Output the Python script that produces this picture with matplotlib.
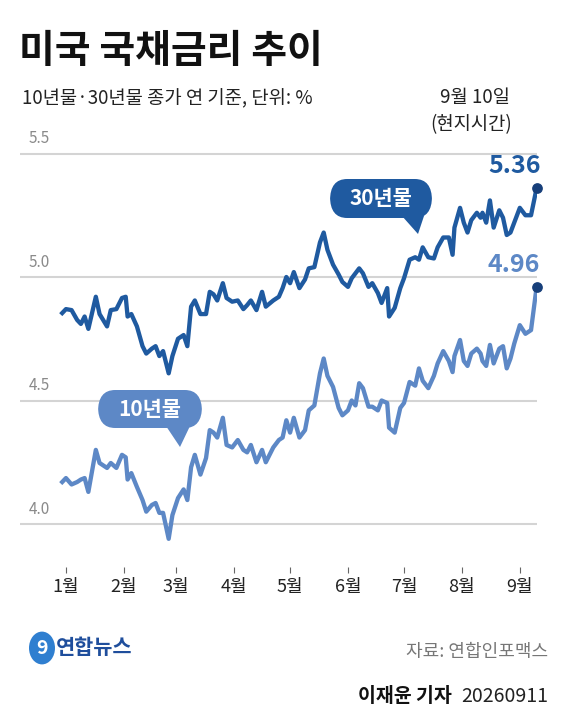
import matplotlib
matplotlib.use("Agg")
import matplotlib.pyplot as plt
from matplotlib.patches import FancyBboxPatch, Polygon, Circle

plt.rcParams['font.family'] = ['Noto Sans CJK KR', 'DejaVu Sans']

# day-of-year index (Jan 1 = 0)
days = [-2, 0, 3, 6, 8, 10, 12, 16, 18, 22, 24, 27, 30, 32, 33, 35, 38, 41, 43, 46,
        48, 50, 52, 55, 57, 60, 63, 65, 67, 69, 72, 75, 77, 79, 81, 84, 86, 89, 92, 95,
        97, 99, 102, 105, 107, 111, 114, 116, 118, 120, 122, 125,
        128, 130, 133, 136, 138, 140, 143, 146, 148, 151, 153, 155, 157, 159, 162, 164,
        167, 169, 172, 173, 176, 179, 181, 184, 187, 189, 191, 194, 197, 199, 202, 205,
        207, 208, 211, 213, 215, 217, 220, 222, 223, 225, 227, 229, 232, 234, 236, 238,
        240, 243, 246, 249, 252]

y30 = [4.854, 4.87, 4.866, 4.826, 4.81, 4.84, 4.79, 4.92, 4.85, 4.80, 4.866, 4.87, 4.915, 4.92,
       4.84, 4.85, 4.80, 4.72, 4.69, 4.71, 4.72, 4.68, 4.70, 4.61, 4.68, 4.75, 4.765, 4.72,
       4.88, 4.905, 4.85, 4.85, 4.94, 4.93, 4.905, 4.975, 4.915, 4.90, 4.905, 4.87, 4.886,
       4.905, 4.866, 4.94, 4.88, 4.905, 4.92, 4.955, 5.0, 4.975, 5.02, 4.955,
       4.99, 5.035, 5.04, 5.14, 5.18, 5.11, 5.05, 5.01, 4.98, 4.96, 4.995, 5.015, 5.035, 5.015,
       4.96, 4.975, 4.935, 4.895, 4.955, 4.84, 4.875, 4.955, 4.995, 5.07, 5.08, 5.07, 5.12,
       5.08, 5.075, 5.12, 5.16, 5.16, 5.09, 5.20, 5.28, 5.22, 5.18, 5.23, 5.26, 5.24, 5.26,
       5.22, 5.31, 5.20, 5.27, 5.24, 5.17, 5.18, 5.22, 5.28, 5.25, 5.25, 5.36]

y10 = [4.17, 4.186, 4.16, 4.17, 4.18, 4.186, 4.13, 4.30, 4.247, 4.227, 4.247, 4.227, 4.28, 4.27,
       4.18, 4.206, 4.15, 4.097, 4.05, 4.077, 4.085, 4.045, 4.045, 3.94, 4.036, 4.105, 4.14,
       4.097, 4.23, 4.28, 4.20, 4.267, 4.38, 4.37, 4.35, 4.43, 4.32, 4.31, 4.34, 4.30, 4.29,
       4.32, 4.25, 4.30, 4.25, 4.31, 4.34, 4.35, 4.42, 4.37, 4.43, 4.35,
       4.38, 4.46, 4.48, 4.61, 4.67, 4.60, 4.555, 4.47, 4.44, 4.46, 4.50, 4.48, 4.57, 4.55,
       4.475, 4.475, 4.46, 4.50, 4.49, 4.39, 4.37, 4.47, 4.49, 4.575, 4.56, 4.63, 4.58, 4.55,
       4.60, 4.65, 4.70, 4.66, 4.615, 4.68, 4.745, 4.66, 4.64, 4.69, 4.71, 4.69, 4.66, 4.64,
       4.725, 4.65, 4.71, 4.72, 4.63, 4.67, 4.73, 4.805, 4.77, 4.785, 4.96]

month_days = [0, 31, 59, 90, 120, 151, 181, 212, 243]
month_labels = ['1월', '2월', '3월', '4월', '5월', '6월', '7월', '8월', '9월']
yticks = [4.0, 4.5, 5.0, 5.5]

C30 = '#1f5aa0'
C10 = '#5d88c6'
DOT = '#173f7a'

W, H = 571, 720
fig = plt.figure(figsize=(W / 100, H / 100), dpi=100)

def fx(px): return px / W
def fy(py): return 1 - py / H

ax_l, ax_r, ax_t, ax_b = 20, 537, 140, 567
ax = fig.add_axes([fx(ax_l), fy(ax_b), (ax_r - ax_l) / W, (ax_b - ax_t) / H])
ax.set_xlim(-24.6, 252.2)
# 5.0 -> 277 px, 247 px per unit
ax.set_ylim(5.0 - (ax_b - 277) / 247, 5.0 + (277 - ax_t) / 247)
for s in ax.spines.values():
    s.set_visible(False)
ax.set_yticks([])
for v in yticks:
    ax.axhline(v, color='#d4d4d4', lw=1.5, zorder=1)
    ax.text(-20, v + 0.025, f'{v:.1f}', color='#8a8a8a', fontsize=11, va='bottom', ha='left')
ax.set_xticks(month_days)
ax.set_xticklabels(month_labels, fontsize=13, color='#222222')
ax.tick_params(axis='x', length=4, width=0.8, color='#666666', pad=4)

ax.plot(days, y30, color=C30, lw=3.1, solid_joinstyle='round', zorder=3)
ax.plot(days, y10, color=C10, lw=3.1, solid_joinstyle='round', zorder=3)
ax.scatter([days[-1], days[-1]], [y30[-1], y10[-1]], s=45, color=DOT, zorder=4, clip_on=False)
ax.text(days[-1] + 2, y30[-1] + 0.04, f'{y30[-1]:.2f}', color=C30, fontsize=18, fontweight='bold',
        ha='right', va='bottom', clip_on=False)
ax.text(days[-1] + 2, y10[-1] + 0.04, f'{y10[-1]:.2f}', color=C10, fontsize=18, fontweight='bold',
        ha='right', va='bottom', clip_on=False)

def callout(x0, y0, x1, y1, tail, color, label):
    box = FancyBboxPatch((fx(x0), fy(y1)), fx(x1 - x0), (y1 - y0) / H,
                         boxstyle='round,pad=0,rounding_size=0.03', transform=fig.transFigure,
                         facecolor=color, edgecolor='none')
    fig.patches.append(box)
    tri = Polygon([(fx(px), fy(py)) for px, py in tail], closed=True,
                  transform=fig.transFigure, facecolor=color, edgecolor='none')
    fig.patches.append(tri)
    fig.text(fx((x0 + x1) / 2), fy((y0 + y1) / 2), label, color='white', fontsize=15,
             fontweight='bold', ha='center', va='center')

callout(330, 179, 432, 218, [(402, 216), (424, 216), (418, 234)], C30, '30년물')
callout(98, 390, 202, 428, [(166, 426), (190, 426), (180, 447)], C10, '10년물')

fig.text(fx(19), fy(52), '미국 국채금리 추이', fontsize=28, fontweight='bold', color='#111111',
         va='center', ha='left')
fig.text(fx(22), fy(99), '10년물·30년물 종가 연 기준, 단위: %', fontsize=13.5, color='#222222',
         va='center', ha='left')
fig.text(fx(510), fy(98), '9월 10일', fontsize=13.5, color='#222222', va='center', ha='right')
fig.text(fx(512), fy(125), '(현지시간)', fontsize=13.5, color='#222222', va='center', ha='right')

# logo
fig.patches.append(Circle((fx(42), fy(648)), 13 / W, transform=fig.transFigure,
                          facecolor='#2f7fd0', edgecolor='none'))
fig.text(fx(42), fy(648), '9', fontsize=14, fontweight='bold', color='white', style='italic',
         ha='center', va='center')
fig.text(fx(56), fy(647), '연합뉴스', fontsize=15, fontweight='bold', color='#1f4e9c',
         ha='left', va='center')
fig.text(fx(548), fy(652), '자료: 연합인포맥스', fontsize=13, color='#777777', ha='right', va='center')
fig.text(fx(548), fy(697), '20260911', fontsize=14, color='#222222', ha='right', va='center')
fig.text(fx(452), fy(697), '이재윤 기자', fontsize=14, fontweight='bold', color='#111111',
         ha='right', va='center')

fig.savefig('out.png', dpi=100, facecolor='white')
